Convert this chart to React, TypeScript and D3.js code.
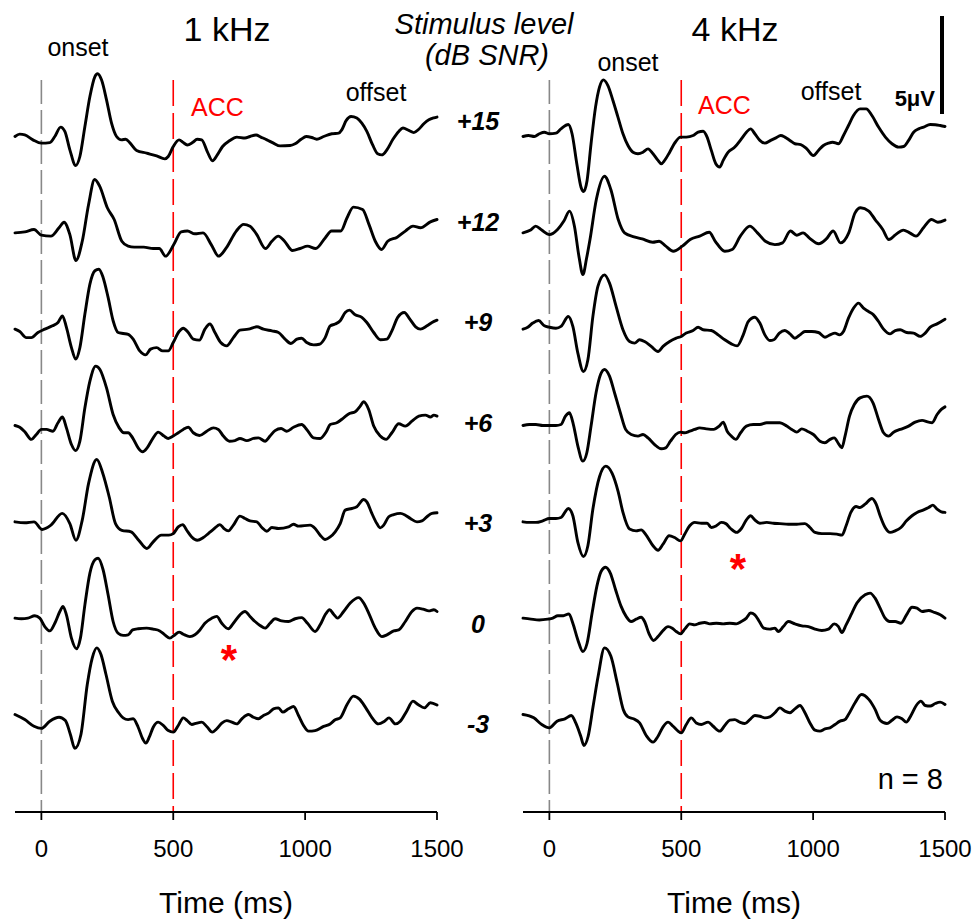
import React from "react";
import * as d3 from "d3";

type Pt = [number, number];

const levels = ["+15", "+12", "+9", "+6", "+3", "0", "-3"];
const panels = ["1 kHz", "4 kHz"];
const xTicks = [0, 500, 1000, 1500];

// Left panel (1 kHz) traces: [time ms, amplitude µV]
const L15: Pt[] = [[-100,0],[-82,0.12],[-63,0.08],[-32,-0.17],[0,-0.34],[32,-0.31],[51,0],[73,0.48],[89,0.26],[108,-0.68],[130,-1.48],[146,-1.02],[165,0.51],[184,2.04],[203,3.06],[213,3.2],[228,2.89],[247,1.87],[266,0.68],[285,0],[304,-0.17],[320,-0.14],[335,-0.31],[361,-0.71],[399,-0.85],[437,-0.99],[468,-1.14],[481,-1.02],[500,-0.51],[522,-0.17],[538,-0.31],[553,-0.43],[573,-0.31],[591,-0.14],[608,-0.17],[629,-0.77],[649,-1.24],[667,-0.94],[687,-0.51],[713,-0.22],[741,-0.03],[772,-0.08],[791,0],[814,0.08],[832,-0.03],[855,-0.17],[880,-0.34],[905,-0.48],[943,-0.46],[962,-0.37],[985,-0.14],[1004,0],[1025,-0.05],[1044,-0.14],[1070,0],[1101,0.14],[1127,0.17],[1139,0.34],[1156,0.82],[1174,1.02],[1196,0.94],[1215,0.68],[1234,0.26],[1256,-0.43],[1275,-0.88],[1291,-0.94],[1310,-0.68],[1333,-0.14],[1355,0.26],[1371,0.43],[1393,0.31],[1412,0.2],[1431,0.37],[1450,0.65],[1469,0.85],[1488,0.95],[1500,0.99]];
const L12: Pt[] = [[-100,0],[-63,0.05],[-28,0.17],[0,-0.12],[36,-0.17],[67,0.26],[86,0.54],[108,-0.09],[131,-1.41],[155,-0.43],[179,1.45],[202,2.72],[221,2.38],[250,1.28],[276,0.68],[305,-0.43],[329,-0.68],[352,-0.73],[388,-0.73],[424,-0.8],[447,-0.8],[471,-1.19],[502,-0.6],[530,0.05],[554,0.09],[582,-0.05],[613,0],[644,-0.6],[672,-1.19],[701,-0.77],[739,0.09],[767,0.43],[791,0.34],[815,-0.05],[850,-0.8],[874,-0.43],[898,-0.17],[922,-0.43],[952,-0.9],[981,-0.8],[1009,-0.68],[1040,-0.8],[1076,-0.26],[1100,0.09],[1135,0.09],[1159,0.77],[1183,1.31],[1218,1.19],[1242,0.43],[1266,-0.43],[1290,-0.85],[1313,-0.43],[1349,-0.22],[1380,0.09],[1409,0.34],[1437,0.26],[1475,0.56],[1500,0.68]];
const L9: Pt[] = [[-100,0],[-82,-0.12],[-57,-0.43],[-38,-0.43],[-13,-0.17],[13,0],[42,0.17],[63,0.34],[80,0.68],[95,0.09],[114,-0.94],[130,-1.53],[146,-0.94],[165,0.77],[184,2.3],[203,2.98],[218,3.06],[234,2.64],[253,1.62],[272,0.43],[291,-0.17],[310,-0.22],[329,-0.26],[348,-0.51],[373,-1.11],[395,-1.31],[414,-1.02],[437,-0.94],[460,-1.11],[481,-1.11],[500,-0.68],[522,-0.12],[538,0.05],[557,-0.17],[576,-0.51],[599,-0.56],[620,0],[639,0.26],[658,-0.17],[680,-0.68],[703,-0.85],[728,-0.43],[753,-0.05],[785,0],[817,0.12],[842,0],[874,-0.09],[899,-0.17],[924,-0.51],[946,-0.73],[969,-0.51],[987,-0.46],[1006,-0.68],[1032,-0.8],[1054,-0.77],[1076,-0.43],[1095,0.17],[1114,0.26],[1133,0.43],[1152,0.85],[1168,0.97],[1190,0.73],[1215,0.6],[1234,0.34],[1260,-0.17],[1285,-0.54],[1310,-0.51],[1329,-0.09],[1351,0.6],[1376,0.85],[1397,0.51],[1419,0.12],[1437,0],[1462,0.17],[1481,0.34],[1500,0.46]];
const L6: Pt[] = [[-100,0],[-82,-0.09],[-63,-0.32],[-38,-0.71],[-19,-0.46],[0,-0.2],[19,-0.2],[44,-0.29],[63,0.14],[80,0.43],[95,-0.12],[114,-0.97],[130,-1.28],[146,-0.8],[165,0.9],[184,2.26],[206,3.03],[222,2.86],[247,1.92],[272,0.56],[295,-0.12],[313,-0.37],[329,-0.37],[346,-0.63],[367,-1.14],[384,-1.34],[401,-1.14],[424,-0.63],[443,-0.34],[465,-0.54],[481,-0.66],[500,-0.54],[519,-0.37],[538,-0.2],[557,-0.09],[576,-0.37],[599,-0.51],[627,-0.29],[652,-0.12],[671,-0.2],[690,-0.54],[713,-0.8],[734,-0.77],[753,-0.66],[779,-0.77],[804,-0.66],[823,-0.63],[848,-0.8],[867,-0.54],[886,-0.26],[909,-0.15],[930,-0.29],[956,-0.09],[987,0.05],[1006,-0.2],[1032,-0.63],[1057,-0.66],[1080,-0.32],[1095,0.05],[1120,0.14],[1146,0.39],[1168,0.61],[1190,0.7],[1209,0.99],[1222,1.21],[1241,0.82],[1260,-0.03],[1285,-0.54],[1307,-0.71],[1329,-0.37],[1355,0.09],[1380,-0.03],[1405,0.22],[1431,0.48],[1456,0.53],[1475,0.43],[1488,0.53],[1500,0.48]];
const L3: Pt[] = [[-100,0],[-63,-0.05],[-28,0],[3,-0.39],[36,-0.17],[79,0.43],[108,-0.09],[131,-0.94],[155,0.09],[179,1.96],[210,3.18],[233,2.47],[257,1.28],[281,-0.09],[305,-0.43],[340,-0.51],[369,-0.94],[400,-1.36],[424,-1.02],[455,-0.68],[483,-0.68],[500,-0.6],[519,-0.26],[536,-0.14],[551,-0.43],[570,-0.77],[591,-0.94],[614,-0.8],[633,-0.6],[652,-0.39],[677,-0.14],[692,-0.34],[709,-0.46],[728,-0.17],[753,0.29],[772,0.17],[791,0.05],[817,0],[836,-0.29],[855,-0.48],[874,-0.29],[899,-0.34],[937,-0.26],[956,-0.12],[975,-0.22],[1019,-0.17],[1038,-0.34],[1057,-0.68],[1076,-0.9],[1095,-0.77],[1114,-0.51],[1133,-0.09],[1152,0.6],[1177,0.68],[1196,0.77],[1222,1.14],[1234,1.02],[1253,0.43],[1272,-0.09],[1285,-0.31],[1298,-0.17],[1317,0.26],[1336,0.37],[1361,0.43],[1380,0.34],[1399,0.17],[1424,0],[1443,0.05],[1462,0.26],[1481,0.43],[1500,0.46]];
const L0: Pt[] = [[-100,0],[-76,-0.03],[-51,0],[-25,0.12],[-6,0],[13,-0.43],[32,-0.65],[51,-0.26],[70,0.34],[82,0.6],[95,0.17],[114,-1.02],[133,-1.56],[148,-1.02],[165,0.68],[184,2.3],[203,2.98],[215,3.06],[234,2.47],[253,1.19],[272,-0.17],[291,-0.77],[310,-0.88],[329,-0.85],[346,-0.6],[367,-0.54],[399,-0.51],[424,-0.56],[449,-0.65],[468,-0.85],[487,-1.02],[503,-0.88],[522,-0.71],[538,-0.82],[563,-0.94],[582,-0.85],[601,-0.6],[620,-0.26],[646,0],[665,0.09],[684,-0.26],[709,-0.54],[728,-0.26],[753,0.17],[772,0.34],[791,0.09],[810,-0.17],[829,-0.37],[848,-0.51],[867,-0.26],[886,-0.03],[911,-0.14],[937,-0.17],[962,-0.03],[987,0.03],[1009,-0.26],[1038,-0.68],[1057,-0.34],[1076,0.17],[1093,0.43],[1108,0.2],[1123,0],[1146,0.34],[1171,0.77],[1203,1.05],[1222,0.77],[1241,0.26],[1266,-0.51],[1291,-0.94],[1310,-0.85],[1336,-0.65],[1355,-0.6],[1380,-0.17],[1405,0.34],[1424,0.51],[1447,0.46],[1469,0.37],[1488,0.43],[1500,0.34]];
const Lm3: Pt[] = [[-100,0],[-63,-0.26],[-28,-0.6],[0,-0.71],[32,-0.34],[67,-0.14],[91,-0.31],[110,-1.02],[127,-1.73],[150,-1.02],[174,1.53],[193,2.89],[210,3.4],[226,3.06],[245,2.04],[269,0.68],[293,0.09],[310,-0.17],[329,-0.26],[348,-0.22],[367,-0.65],[384,-1.24],[396,-1.46],[409,-1.16],[424,-0.65],[443,-0.39],[462,-0.56],[481,-0.82],[500,-0.9],[519,-0.56],[538,-0.17],[553,-0.31],[570,-0.51],[589,-0.44],[608,-0.39],[627,-0.61],[648,-0.9],[665,-0.73],[684,-0.44],[703,-0.31],[722,-0.39],[741,-0.48],[760,-0.22],[785,0],[804,-0.14],[823,-0.22],[842,-0.05],[861,0.07],[880,0.29],[899,0.34],[915,0.12],[937,0.29],[956,0.41],[975,-0.05],[994,-0.56],[1013,-0.85],[1038,-0.82],[1070,-0.61],[1095,-0.48],[1114,-0.27],[1133,-0.17],[1159,0.51],[1183,0.94],[1207,0.77],[1230,0.34],[1254,-0.17],[1278,-0.48],[1301,-0.34],[1318,-0.17],[1342,-0.48],[1361,-0.34],[1385,0.17],[1409,0.68],[1428,0.51],[1452,0.34],[1475,0.6],[1500,0.48]];

// Right panel (4 kHz) traces
const R15: Pt[] = [[-100,0],[-79,0.05],[-57,0],[-38,0.14],[-19,0.22],[0,0.14],[25,0.17],[44,0.39],[72,0.61],[86,0.14],[104,-1.39],[120,-2.59],[130,-2.81],[143,-2.24],[158,-0.37],[175,1.5],[190,2.52],[205,2.89],[222,2.6],[241,1.84],[260,0.99],[279,0.14],[298,-0.46],[317,-0.8],[336,-0.88],[355,-0.8],[374,-0.63],[393,-0.88],[412,-1.22],[424,-1.39],[437,-1.22],[456,-0.8],[475,-0.34],[497,-0.03],[519,-0.03],[545,0.05],[564,0.22],[583,0.27],[598,-0.03],[614,-0.71],[631,-1.39],[646,-1.56],[659,-1.22],[678,-0.8],[703,-0.54],[728,-0.12],[747,0.22],[763,0.39],[779,0.14],[798,-0.2],[817,-0.34],[839,-0.2],[859,-0.07],[877,0.05],[893,-0.03],[912,-0.2],[931,-0.37],[953,-0.41],[976,-0.63],[1001,-0.97],[1020,-0.71],[1039,-0.46],[1058,-0.34],[1074,-0.29],[1096,-0.37],[1115,0.05],[1134,0.56],[1153,1.07],[1178,1.41],[1201,1.41],[1223,1.07],[1248,0.48],[1274,-0.03],[1299,-0.37],[1324,-0.54],[1343,-0.51],[1362,-0.2],[1381,0.22],[1400,0.39],[1419,0.48],[1444,0.61],[1463,0.6],[1482,0.56],[1500,0.51]];
const R12: Pt[] = [[-100,0],[-71,0.14],[-52,0.34],[-29,0.14],[0,-0.09],[31,0.17],[55,0.6],[76,1.11],[95,0.34],[112,-1.19],[127,-2.13],[141,-1.3],[154,-0.34],[178,1.7],[209,2.89],[233,2.21],[261,0.68],[285,0],[321,-0.2],[352,-0.31],[392,-0.48],[416,-0.43],[439,-0.65],[470,-0.94],[504,-0.68],[534,-0.34],[570,-0.17],[606,0.03],[629,-0.43],[665,-0.94],[693,-0.85],[724,-0.17],[760,0.34],[789,0],[819,-0.43],[855,-0.6],[884,-0.51],[914,0.09],[938,-0.12],[962,0],[986,-0.27],[1021,-0.56],[1050,-0.31],[1076,0.09],[1104,-0.51],[1135,0],[1159,1.02],[1180,1.28],[1211,1.11],[1235,0.68],[1264,0.17],[1287,-0.34],[1313,-0.09],[1342,0.14],[1366,0],[1390,-0.17],[1420,0.29],[1449,0.68],[1473,0.54],[1500,0.65]];
const R9: Pt[] = [[-100,0],[-82,0.1],[-63,0.31],[-41,0.44],[-19,0.17],[0,0.1],[25,0.05],[44,0.14],[72,0.65],[89,0.14],[108,-1.22],[129,-2.16],[146,-1.56],[165,0.65],[184,2.18],[209,2.77],[228,2.35],[253,1.16],[279,-0.03],[304,-0.63],[323,-0.71],[342,-0.54],[361,-0.63],[386,-0.88],[412,-1.14],[431,-0.88],[456,-0.63],[481,-0.46],[500,-0.37],[519,-0.2],[545,-0.07],[564,0.1],[583,-0.03],[614,-0.07],[640,-0.29],[665,-0.54],[690,-0.75],[712,-0.85],[735,-0.29],[754,0.39],[779,0.61],[798,0.31],[817,-0.29],[836,-0.58],[851,-0.54],[872,-0.2],[893,-0.07],[912,-0.24],[931,-0.46],[950,-0.29],[969,-0.12],[995,-0.12],[1020,-0.17],[1045,-0.41],[1064,-0.29],[1083,-0.2],[1100,-0.29],[1115,-0.12],[1134,0.56],[1153,1.07],[1172,1.33],[1191,1.07],[1210,0.9],[1229,0.73],[1248,0.39],[1267,0],[1292,-0.24],[1311,-0.07],[1330,-0.03],[1355,-0.17],[1381,-0.2],[1406,-0.37],[1425,-0.2],[1444,0.1],[1470,0.27],[1500,0.51]];
const R6: Pt[] = [[-100,0],[-76,0.05],[-51,0.05],[-25,0],[0,0],[25,0],[44,0.05],[61,0.48],[76,0.65],[91,0.05],[108,-1.05],[127,-1.82],[142,-1.39],[158,-0.03],[177,1.67],[194,2.6],[209,2.86],[228,2.52],[247,1.67],[269,0.65],[289,-0.2],[310,-0.46],[336,-0.54],[355,-0.46],[374,-0.63],[399,-0.97],[424,-1.19],[441,-1.14],[459,-0.8],[479,-0.46],[497,-0.34],[513,-0.37],[532,-0.29],[551,-0.2],[570,-0.12],[595,-0.17],[623,-0.2],[644,-0.03],[659,0.17],[674,-0.29],[690,-0.54],[707,-0.71],[725,-0.37],[747,-0.03],[773,0.05],[798,0.05],[824,0.14],[849,0.14],[874,0.14],[900,-0.03],[919,-0.2],[938,-0.34],[957,-0.17],[978,-0.29],[1001,-0.46],[1026,-0.8],[1045,-0.88],[1064,-0.71],[1080,-0.63],[1096,-0.92],[1109,-1.14],[1121,-0.54],[1138,0.48],[1156,1.07],[1178,1.41],[1204,1.5],[1227,1.16],[1248,0.31],[1267,-0.37],[1286,-0.54],[1305,-0.34],[1330,-0.2],[1362,-0.03],[1387,0.17],[1413,0.26],[1438,0.17],[1451,0.14],[1470,0.56],[1486,0.82],[1500,0.95]];
const R3: Pt[] = [[-100,0],[-76,-0.03],[-51,-0.03],[-25,0.05],[0,0.17],[25,0.17],[44,0.22],[72,0.68],[89,0.31],[108,-1.05],[129,-1.77],[146,-1.22],[165,0.65],[190,2.3],[214,2.84],[238,2.47],[261,1.53],[279,0.48],[304,-0.37],[329,-0.46],[348,-0.41],[367,-0.68],[393,-1.22],[412,-1.45],[431,-1.14],[454,-0.71],[475,-0.8],[497,-0.97],[513,-0.63],[532,-0.2],[551,-0.03],[577,-0.07],[598,-0.07],[614,-0.29],[633,-0.2],[652,-0.03],[669,-0.09],[687,-0.34],[710,-0.54],[728,-0.34],[747,0.1],[763,0.31],[779,0.1],[798,-0.07],[824,-0.03],[849,-0.07],[874,-0.09],[906,-0.12],[938,-0.12],[969,-0.09],[988,-0.29],[1007,-0.54],[1033,-0.6],[1064,-0.6],[1090,-0.63],[1109,-0.68],[1125,-0.2],[1143,0.48],[1163,0.78],[1178,0.73],[1197,0.9],[1223,1.19],[1239,0.9],[1254,0.31],[1273,-0.29],[1292,-0.54],[1311,-0.46],[1333,-0.29],[1354,0.05],[1375,0.31],[1394,0.48],[1419,0.61],[1438,0.73],[1454,0.85],[1470,0.65],[1486,0.51],[1500,0.48]];
const R0: Pt[] = [[-100,0],[-70,-0.05],[-38,-0.09],[-6,-0.05],[13,0],[32,0.12],[53,0.12],[74,0.22],[89,-0.26],[108,-1.11],[127,-1.7],[143,-1.28],[162,0.26],[180,1.62],[196,2.38],[213,2.6],[231,2.3],[251,1.45],[272,0.6],[291,0.09],[310,-0.17],[329,-0.05],[348,0.05],[361,-0.17],[378,-0.8],[395,-1.14],[412,-0.94],[431,-0.63],[450,-0.43],[466,-0.51],[481,-0.68],[497,-0.8],[513,-0.56],[532,-0.29],[551,-0.34],[570,-0.26],[589,-0.22],[608,-0.29],[633,-0.26],[659,-0.29],[684,-0.26],[709,-0.29],[728,-0.17],[747,0],[763,0.26],[779,0.17],[796,-0.17],[813,-0.51],[836,-0.56],[855,-0.51],[868,-0.68],[887,-0.43],[906,-0.17],[931,-0.29],[957,-0.39],[982,-0.43],[1007,-0.56],[1033,-0.63],[1058,-0.56],[1080,-0.29],[1096,-0.43],[1109,-0.73],[1125,-0.34],[1147,0.26],[1166,0.77],[1197,1.19],[1216,1.28],[1235,1.02],[1254,0.51],[1273,0],[1290,-0.17],[1311,-0.17],[1333,-0.26],[1354,0.17],[1375,0.56],[1394,0.51],[1413,0.34],[1438,0.39],[1460,0.29],[1482,0.17],[1500,0]];
const Rm3: Pt[] = [[-100,0],[-59,-0.17],[-29,-0.51],[0,-0.68],[29,-0.34],[59,-0.22],[83,-0.05],[100,-0.43],[119,-1.11],[131,-1.58],[147,-1.11],[166,0.43],[185,1.96],[209,3.4],[233,2.98],[257,1.62],[280,0.26],[298,-0.12],[319,-0.22],[342,-0.43],[367,-1.07],[393,-1.41],[412,-1.11],[431,-0.63],[450,-0.39],[469,-0.6],[488,-0.85],[500,-0.94],[519,-0.51],[538,-0.17],[557,-0.43],[576,-0.51],[602,-0.39],[621,-0.6],[646,-0.85],[665,-0.56],[684,-0.29],[703,-0.26],[722,-0.39],[741,-0.46],[760,-0.26],[779,-0.05],[798,-0.09],[817,-0.17],[836,-0.12],[855,0.09],[874,0.34],[893,0.17],[912,0.09],[931,0.29],[950,0.46],[969,0.09],[988,-0.43],[1007,-0.8],[1026,-0.85],[1045,-0.73],[1064,-0.68],[1083,-0.51],[1102,-0.34],[1121,-0.26],[1134,0],[1159,0.6],[1183,1.02],[1211,0.77],[1235,0.26],[1254,-0.29],[1280,-0.46],[1299,-0.29],[1318,-0.12],[1337,-0.22],[1353,-0.39],[1371,-0.05],[1391,0.46],[1409,0.68],[1425,0.46],[1444,0.43],[1463,0.56],[1482,0.63],[1500,0.51]];

const leftTraces = [L15, L12, L9, L6, L3, L0, Lm3];
const rightTraces = [R15, R12, R9, R6, R3, R0, Rm3];

const FONT = "'Liberation Sans', Arial, sans-serif";

export default function App() {
  const W = 978, H = 919;
  const panelRanges: [number, number][] = [[15, 437], [523, 945]];
  const rowY = d3.scaleLinear().domain([0, 6]).range([136.5, 714.5]);
  const labelY = d3.scaleLinear().domain([0, 6]).range([122, 725]);
  const amp = d3.scaleLinear().domain([0, 5]).range([0, -98]);
  const axisY = 812;

  const panelsData = [leftTraces, rightTraces];

  return (
    <svg width={W} height={H} style={{ position: "absolute", left: 0, top: 0, background: "#fff" }} fontFamily={FONT}>
      <rect x={0} y={0} width={W} height={H} fill="#fff" />
      {panelsData.map((traces, p) => {
        const x = d3.scaleLinear().domain([-100, 1500]).range(panelRanges[p]);
        const cx = (panelRanges[p][0] + panelRanges[p][1]) / 2;
        return (
          <g key={p}>
            <line x1={x(0)} x2={x(0)} y1={80} y2={axisY} stroke="#888" strokeWidth={1.6} strokeDasharray="24,6" />
            <line x1={x(500)} x2={x(500)} y1={80} y2={axisY} stroke="#ff0000" strokeWidth={1.6} strokeDasharray="26,7" />
            {traces.map((tr, i) => {
              const line = d3.line<Pt>()
                .x((d) => x(d[0]))
                .y((d) => rowY(i) + amp(d[1]))
                .curve(d3.curveMonotoneX);
              return <path key={i} d={line(tr) || ""} fill="none" stroke="#000" strokeWidth={2.9} strokeLinejoin="round" strokeLinecap="round" />;
            })}
            <line x1={panelRanges[p][0]} x2={panelRanges[p][1]} y1={axisY} y2={axisY} stroke="#000" strokeWidth={1.8} />
            {xTicks.map((t) => (
              <g key={t}>
                <line x1={x(t)} x2={x(t)} y1={axisY} y2={axisY + 8} stroke="#000" strokeWidth={1.8} />
                <text x={x(t)} y={857} fontSize={24} textAnchor="middle" fill="#000">{t}</text>
              </g>
            ))}
            <text x={cx} y={913} fontSize={30} textAnchor="middle" fill="#000">Time (ms)</text>
            <text x={cx + 1} y={41} fontSize={34} textAnchor="middle" fill="#000">{panels[p]}</text>
          </g>
        );
      })}
      {levels.map((l, i) => (
        <text key={l} x={478} y={labelY(i) + 8} fontSize={25} fontWeight="bold" fontStyle="italic" textAnchor="middle" fill="#000">{l}</text>
      ))}
      <text x={484} y={34} fontSize={29} fontStyle="italic" textAnchor="middle" fill="#000">Stimulus level</text>
      <text x={487} y={65} fontSize={29} fontStyle="italic" textAnchor="middle" fill="#000">(dB SNR)</text>
      <text x={78} y={56} fontSize={25} textAnchor="middle" fill="#000">onset</text>
      <text x={628} y={71} fontSize={25} textAnchor="middle" fill="#000">onset</text>
      <text x={376} y={101} fontSize={25} textAnchor="middle" fill="#000">offset</text>
      <text x={831} y={100} fontSize={25} textAnchor="middle" fill="#000">offset</text>
      <text x={191} y={116} fontSize={25} fill="#ff0000">ACC</text>
      <text x={698} y={114} fontSize={25} fill="#ff0000">ACC</text>
      <line x1={942} x2={942} y1={16} y2={16 - amp(5)} stroke="#000" strokeWidth={4} />
      <text x={935} y={106} fontSize={22} fontWeight="bold" textAnchor="end" fill="#000">5μV</text>
      <text x={943} y={789} fontSize={29} textAnchor="end" fill="#000">n = 8</text>
      <text x={229} y={674} fontSize={42} fontWeight="bold" textAnchor="middle" fill="#ff0000">*</text>
      <text x={738} y={583} fontSize={42} fontWeight="bold" textAnchor="middle" fill="#ff0000">*</text>
    </svg>
  );
}
